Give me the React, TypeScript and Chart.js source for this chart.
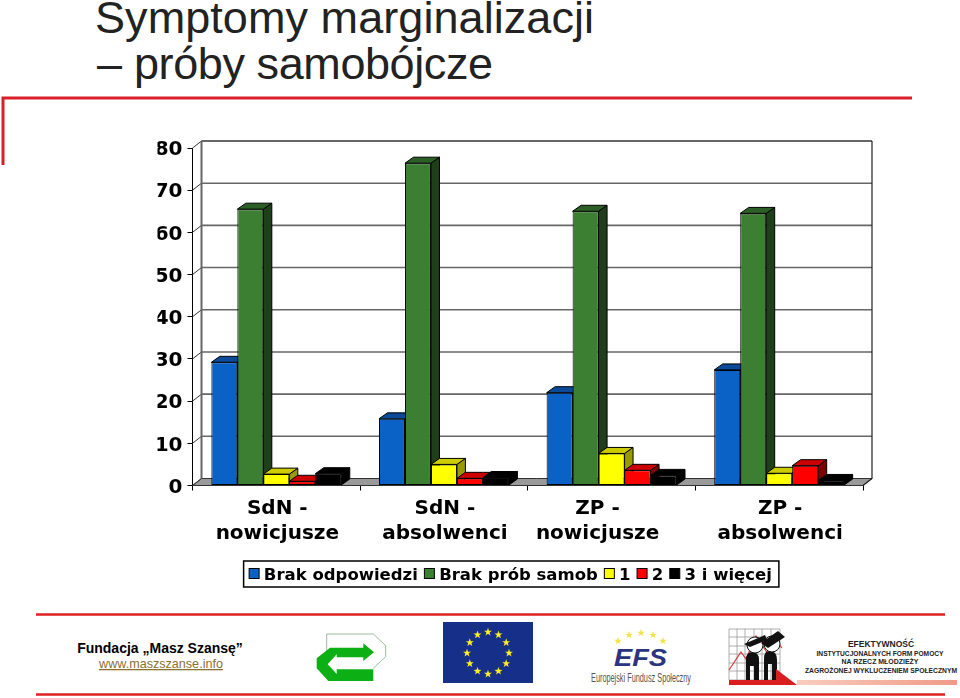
import React, { useEffect, useRef } from "react";
import { Chart, registerables } from "chart.js";

Chart.register(...registerables);

const categories = [
  ["SdN -", "nowicjusze"],
  ["SdN -", "absolwenci"],
  ["ZP -", "nowicjusze"],
  ["ZP -", "absolwenci"],
];
const categoryLabelNudge = [1, 1, -14, 1];
const brakOdpowiedzi = [29.2, 15.8, 22, 27.4];
const brakProb = [65.5, 76.4, 65, 64.5];
const jeden = [2.7, 5, 7.6, 2.9];
const dwa = [1, 1.7, 3.6, 4.7];
const trzyIWiecej = [2.8, 1.9, 2.4, 1.2];

const seriesLabels = ["Brak odpowiedzi", "Brak prób samob", "1", "2", "3 i więcej"];
const frontColors = ["#0A62C6", "#3C7F33", "#FFFF00", "#FF0000", "#000000"];
const topColors = ["#0A4A98", "#2C5F26", "#CCCC00", "#CC0000", "#000000"];
const sideColors = ["#083468", "#1F3F1A", "#999900", "#800000", "#000000"];

const DEPTH_X = 9;
const DEPTH_Y = 7;
const BAR_DX = 8.5;
const BAR_DY = 6;
const FONT = "'DejaVu Sans'";

const poly = (ctx: CanvasRenderingContext2D, pts: number[][]) => {
  ctx.beginPath();
  pts.forEach((p, i) => (i ? ctx.lineTo(p[0], p[1]) : ctx.moveTo(p[0], p[1])));
  ctx.closePath();
};

const box3d = {
  id: "box3d",
  beforeDraw(chart: any) {
    chart.scales.x.getLabelItems().forEach((item: any, i: number) => {
      if (item.nudged) return;
      item.nudged = true;
      item.options.translation[0] += categoryLabelNudge[i];
    });
  },
  beforeDatasetsDraw(chart: any) {
    const { ctx, scales } = chart;
    const { x: xs, y: ys } = scales;
    const l = xs.left;
    const r = xs.right;
    const y0 = ys.getPixelForValue(0);
    ctx.save();
    // floor
    poly(ctx, [[l, y0], [l + DEPTH_X, y0 - DEPTH_Y], [r + DEPTH_X, y0 - DEPTH_Y], [r, y0]]);
    ctx.fillStyle = "#999999";
    ctx.fill();
    ctx.strokeStyle = "#333333";
    ctx.lineWidth = 1;
    ctx.stroke();
    // grid on back wall
    ys.ticks.forEach((t: any) => {
      const y = ys.getPixelForValue(t.value);
      ctx.beginPath();
      ctx.moveTo(l, y);
      ctx.lineTo(l + DEPTH_X, y - DEPTH_Y);
      ctx.strokeStyle = "#333333";
      ctx.lineWidth = 1;
      ctx.stroke();
      if (t.value === 0) return;
      ctx.beginPath();
      ctx.moveTo(l + DEPTH_X, y - DEPTH_Y);
      ctx.lineTo(r + DEPTH_X, y - DEPTH_Y);
      ctx.strokeStyle = t.value === 80 ? "#333333" : "#666666";
      ctx.lineWidth = 1.6;
      ctx.stroke();
    });
    const top = ys.getPixelForValue(80) - DEPTH_Y;
    ctx.beginPath();
    ctx.moveTo(l + DEPTH_X, top);
    ctx.lineTo(l + DEPTH_X, y0 - DEPTH_Y);
    ctx.strokeStyle = "#666666";
    ctx.lineWidth = 2;
    ctx.stroke();
    ctx.beginPath();
    ctx.moveTo(r + DEPTH_X, top);
    ctx.lineTo(r + DEPTH_X, y0 - DEPTH_Y);
    ctx.lineTo(r, y0);
    ctx.strokeStyle = "#222222";
    ctx.lineWidth = 1.2;
    ctx.stroke();
    // bar tops and sides
    chart.data.datasets.forEach((_: any, d: number) => {
      chart.getDatasetMeta(d).data.forEach((b: any) => {
        const left = b.x - b.width / 2;
        const right = b.x + b.width / 2;
        ctx.strokeStyle = "#000000";
        ctx.lineWidth = 1;
        poly(ctx, [[right, b.y], [right + BAR_DX, b.y - BAR_DY], [right + BAR_DX, b.base - BAR_DY], [right, b.base]]);
        ctx.fillStyle = sideColors[d];
        ctx.fill();
        ctx.stroke();
        poly(ctx, [[left, b.y], [left + BAR_DX, b.y - BAR_DY], [right + BAR_DX, b.y - BAR_DY], [right, b.y]]);
        ctx.fillStyle = topColors[d];
        ctx.fill();
        ctx.stroke();
      });
    });
    ctx.restore();
  },
  afterDraw(chart: any) {
    const { ctx, legend } = chart;
    const boxes = legend.legendHitBoxes;
    if (!boxes || !boxes.length) return;
    ctx.save();
    const first = boxes[0];
    const last = boxes[boxes.length - 1];
    ctx.strokeStyle = "#000000";
    ctx.lineWidth = 1.5;
    ctx.strokeRect(first.left - 5, 561, last.left + last.width - first.left + 12, 26);
    boxes.forEach((b: any, i: number) => {
      ctx.fillStyle = frontColors[i];
      ctx.lineWidth = 1;
      ctx.fillRect(b.left + 0.5, 568.5, 10, 10);
      ctx.strokeRect(b.left + 0.5, 568.5, 10, 10);
    });
    ctx.restore();
  },
};

const stars = (cx: number, cy: number, r: number) => {
  const pts: string[] = [];
  for (let i = 0; i < 10; i++) {
    const a = -Math.PI / 2 + (i * Math.PI) / 5;
    const rr = i % 2 ? r * 0.4 : r;
    pts.push(`${(cx + rr * Math.cos(a)).toFixed(2)},${(cy + rr * Math.sin(a)).toFixed(2)}`);
  }
  return pts.join(" ");
};

const euStars = Array.from({ length: 12 }, (_, i) => {
  const a = (i * Math.PI) / 6;
  return [488 + 21 * Math.sin(a), 653 - 21 * Math.cos(a)];
});
const efsStars = [[618, 641], [629, 635], [641, 633], [653, 635], [663, 641]];
const gridX = [729, 737, 745, 754, 762, 771, 780];
const gridY = [629, 637, 646, 654, 663, 671, 680];

function Decor() {
  const sans = "'Liberation Sans', Arial, sans-serif";
  return (
    <svg width={960} height={698} style={{ position: "absolute", left: 0, top: 0 }}>
      <text x={95} y={33} fontFamily={sans} fontSize={45} textLength={499} fill="#222">Symptomy marginalizacji</text>
      <text x={97} y={79} fontFamily={sans} fontSize={45} fill="#222">–</text>
      <text x={134} y={79} fontFamily={sans} fontSize={45} textLength={359} fill="#222">próby samobójcze</text>
      <path d="M3 165V98H912" fill="none" stroke="#D8202A" strokeWidth={3} />
      <path d="M36 614.5H945M36 694.5H945" fill="none" stroke="#DD2222" strokeWidth={2.5} />

      <text x={160} y={653} textAnchor="middle" fontFamily={sans} fontSize={14} fontWeight="bold" fill="#000">Fundacja „Masz Szansę”</text>
      <text x={161} y={668} textAnchor="middle" fontFamily={sans} fontSize={12.6} fill="#8A7030" textDecoration="underline">www.maszszanse.info</text>

      <path d="M326.7 669V634H373.3L385.7 645.7V656.7L373.3 668.3" fill="#fff" stroke="#9DBB9D" strokeWidth={1} />
      <path d="M330 647.7H363.3V643.3L374 652.3L363.3 661V657.3H336.7V654.3L327.7 664.3L336.7 674V669.3H373.3V681H328.3L316.7 668.3V658.3Z" fill="#0CB014" />

      <rect x={443} y={622} width={90} height={61} fill="#16308A" />
      {euStars.map(([x, y], i) => (
        <polygon key={i} points={stars(x, y, 4.2)} fill="#FFEE22" />
      ))}

      {efsStars.map(([x, y], i) => (
        <polygon key={i} points={stars(x, y, 4)} fill="#F2E34A" />
      ))}
      <text x={614} y={666} fontFamily={sans} fontStyle="italic" fontWeight="bold" fontSize={24} textLength={53} lengthAdjust="spacingAndGlyphs" fill="#2A3580">EFS</text>
      <text x={591} y={682} fontFamily="'Liberation Sans Narrow', 'Liberation Sans', sans-serif" fontSize={12} textLength={100} lengthAdjust="spacingAndGlyphs" fill="#555">Europejski Fundusz Społeczny</text>

      {gridX.map((x) => <line key={x} x1={x} x2={x} y1={629} y2={680} stroke="#999" strokeWidth={0.8} />)}
      {gridY.map((y) => <line key={y} x1={729} x2={780} y1={y} y2={y} stroke="#999" strokeWidth={0.8} />)}
      <path d="M729 670L741 652L746 659L756 636L768 654L778 643L782 648" fill="none" stroke="#D83838" strokeWidth={1.2} />
      <path d="M746 680V660Q746 652 752 652Q759 652 759 660V680H754V666H750V680Z" fill="#111" />
      <path d="M764 680V659Q764 650 770 651Q777 651 777 660V680H772V664H768V680Z" fill="#111" />
      <circle cx={755} cy={645} r={8} fill="#fff" stroke="#111" />
      <circle cx={772} cy={644} r={8} fill="#fff" stroke="#111" />
      <path d="M744 644L765 635L767 640L750 647Z" fill="#111" />
      <path d="M761 643L778 631L785 637L768 648Z" fill="#111" />
      <defs>
        <linearGradient id="fade" x1="0" x2="1" y1="0" y2="0">
          <stop offset="0" stopColor="#F8CDBE" />
          <stop offset="1" stopColor="#F09A88" />
        </linearGradient>
      </defs>
      <rect x={797} y={680} width={160} height={5} fill="url(#fade)" />
      <path d="M729 685V680H776V669L797 685Z" fill="#D81E1E" />
      <g fontFamily={sans} fontWeight="bold" fill="#222" textAnchor="middle">
        <text x={881} y={647} fontSize={8.5}>EFEKTYWNOŚĆ</text>
        <text x={880} y={656} fontSize={6.8} textLength={127} lengthAdjust="spacingAndGlyphs">INSTYTUCJONALNYCH FORM POMOCY</text>
        <text x={880} y={664} fontSize={6.8} textLength={77} lengthAdjust="spacingAndGlyphs">NA RZECZ MŁODZIEŻY</text>
        <text x={881} y={673} fontSize={6.8} textLength={152} lengthAdjust="spacingAndGlyphs">ZAGROŻONEJ WYKLUCZENIEM SPOŁECZNYM</text>
      </g>
    </svg>
  );
}

export default function App() {
  const ref = useRef<HTMLCanvasElement>(null);
  useEffect(() => {
    const seriesValues = [brakOdpowiedzi, brakProb, jeden, dwa, trzyIWiecej];
    const chart = new Chart(ref.current!, {
      type: "bar",
      data: {
        labels: categories as any,
        datasets: seriesLabels.map((label, i) => ({
          label,
          data: seriesValues[i],
          backgroundColor: frontColors[i],
          borderColor: "#000000",
          borderWidth: 1,
          borderSkipped: false,
          categoryPercentage: 0.775,
          barPercentage: 1,
        })),
      },
      options: {
        responsive: false,
        animation: false,
        events: [],
        layout: { padding: { left: 157.5, right: 97, top: 148, bottom: 104 } },
        scales: {
          x: {
            afterFit: (s: any) => { s.height = 76; },
            grid: { drawOnChartArea: false, drawTicks: true, tickLength: 5, color: "#000000" },
            border: { color: "#000000", width: 1 },
            ticks: {
              color: "#000000",
              padding: 6,
              maxRotation: 0,
              autoSkip: false,
              font: { family: FONT, size: 20, weight: "bold", lineHeight: 1.25 },
            },
          },
          y: {
            min: 0,
            max: 80,
            afterFit: (s: any) => { s.width = 35; },
            grid: { drawOnChartArea: false, drawTicks: true, tickLength: 5, color: "#000000" },
            border: { color: "#000000", width: 1 },
            ticks: {
              stepSize: 10,
              color: "#000000",
              padding: 5,
              labelOffset: 2,
              font: { family: FONT, size: 20, weight: "bold" },
            },
          },
        },
        plugins: {
          tooltip: { enabled: false },
          title: { display: false },
          legend: {
            position: "bottom",
            labels: {
              color: "#000000",
              boxWidth: 7,
              padding: 6,
              font: { family: FONT, size: 16.5, weight: "bold", lineHeight: 1 },
              generateLabels: (c: any) =>
                Chart.defaults.plugins.legend.labels.generateLabels(c).map((it: any) => ({
                  ...it,
                  fillStyle: "rgba(0,0,0,0)",
                  strokeStyle: "rgba(0,0,0,0)",
                  lineWidth: 0,
                })),
            },
          },
        },
      } as any,
      plugins: [box3d],
    });
    return () => chart.destroy();
  }, []);
  return (
    <div style={{ position: "absolute", left: 0, top: 0, width: 960, height: 698, overflow: "hidden", background: "#fff" }}>
      <Decor />
      <canvas ref={ref} width={960} height={698} style={{ position: "absolute", left: 0, top: 0, display: "block" }} />
    </div>
  );
}
